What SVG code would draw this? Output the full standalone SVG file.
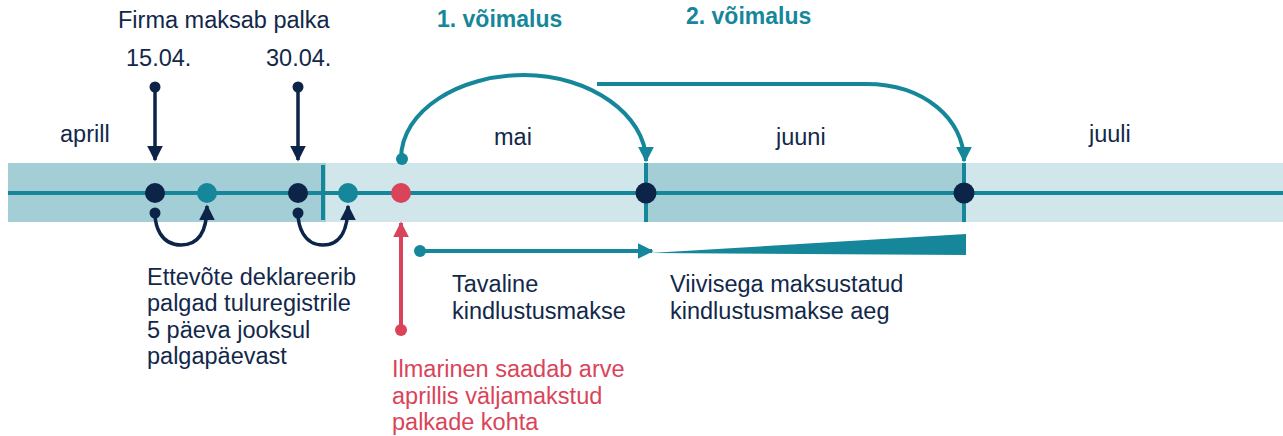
<svg xmlns="http://www.w3.org/2000/svg" width="1283" height="436" viewBox="0 0 1283 436">
<style>
text{font-family:"Liberation Sans",Arial,sans-serif;font-size:23.5px;fill:#12284a}
.t{fill:#16879a;font-weight:bold;font-size:23px}
.r{fill:#d9445a}
.tl{stroke:#16879a;stroke-width:4;fill:none}
.nl{stroke:#0b2447;stroke-width:3.5;fill:none}
</style>
<defs>
<marker id="at" viewBox="0 0 10 10" refX="9" refY="5" markerWidth="4" markerHeight="4" orient="auto" markerUnits="strokeWidth"><path d="M0,0 L10,5 L0,10 z" fill="#16879a"/></marker>
<marker id="an" viewBox="0 0 10 10" refX="9" refY="5" markerWidth="4.5" markerHeight="4.5" orient="auto" markerUnits="strokeWidth"><path d="M0,0 L10,5 L0,10 z" fill="#0b2447"/></marker>
<marker id="ar" viewBox="0 0 10 10" refX="9" refY="5" markerWidth="4" markerHeight="4" orient="auto" markerUnits="strokeWidth"><path d="M0,0 L10,5 L0,10 z" fill="#d9445a"/></marker>
</defs>
<g id="band">
<rect x="8" y="163" width="1275" height="59" fill="#d1e6ea"/>
<rect x="8" y="163" width="318" height="59" fill="#a4ced5"/>
<rect x="646" y="163" width="318" height="59" fill="#a4ced5"/>
<line x1="8" y1="193" x2="1283" y2="193" class="tl"/>
<line x1="323" y1="165" x2="323" y2="220" class="tl"/>
<line x1="646" y1="163" x2="646" y2="222" class="tl"/>
<line x1="964" y1="163" x2="964" y2="222" class="tl"/>
</g>
<g id="connectors">
<line x1="155" y1="87" x2="155" y2="160" class="nl" marker-end="url(#an)"/>
<circle cx="155" cy="87" r="5.5" fill="#0b2447"/>
<line x1="298" y1="87" x2="298" y2="160" class="nl" marker-end="url(#an)"/>
<circle cx="298" cy="87" r="5.5" fill="#0b2447"/>
<path d="M155,213 C155,225 160,245 181,245 C202,245 207,225 207,206" class="nl" marker-end="url(#an)"/>
<circle cx="155" cy="213" r="5.5" fill="#0b2447"/>
<path d="M298,213 C298,225 303,245 323,245 C343,245 348,225 348,206" class="nl" marker-end="url(#an)"/>
<circle cx="298" cy="213" r="5.5" fill="#0b2447"/>
<path d="M401,159 C401,110 460,75 524,75 C590,75 646,115 646,161" class="tl" marker-end="url(#at)"/>
<circle cx="402" cy="159" r="6" fill="#16879a"/>
<path d="M597,84 L866,84 C925,84 964,120 964,161" class="tl" marker-end="url(#at)"/>
<line x1="401" y1="330" x2="401" y2="223" stroke="#d9445a" stroke-width="4" marker-end="url(#ar)"/>
<circle cx="401" cy="330" r="6" fill="#d9445a"/>
<line x1="420" y1="251" x2="652" y2="251" class="tl" marker-end="url(#at)"/>
<circle cx="420" cy="251" r="6" fill="#16879a"/>
<polygon points="650,253 966,234 966,255" fill="#16879a"/>
</g>
<g id="dots">
<circle cx="155" cy="193" r="10" fill="#0b2447"/>
<circle cx="207" cy="193" r="10" fill="#16879a"/>
<circle cx="298" cy="193" r="10" fill="#0b2447"/>
<circle cx="348" cy="193" r="10" fill="#16879a"/>
<circle cx="401" cy="193" r="10" fill="#d9445a"/>
<circle cx="646" cy="193" r="10.5" fill="#0b2447"/>
<circle cx="964" cy="193" r="10.5" fill="#0b2447"/>
</g>
<g id="labels">
<text x="118" y="28">Firma maksab palka</text>
<text x="126" y="66">15.04.</text>
<text x="266" y="66">30.04.</text>
<text x="60" y="142">aprill</text>
<text x="494" y="145">mai</text>
<text x="776" y="145">juuni</text>
<text x="1089" y="142">juuli</text>
<text x="437" y="27" class="t">1. võimalus</text>
<text x="686" y="24" class="t">2. võimalus</text>
<text x="147" y="285">Ettevõte deklareerib</text>
<text x="147" y="311">palgad tuluregistrile</text>
<text x="147" y="338">5 päeva jooksul</text>
<text x="147" y="364">palgapäevast</text>
<text x="452" y="292">Tavaline</text>
<text x="452" y="319">kindlustusmakse</text>
<text x="670" y="292">Viivisega maksustatud</text>
<text x="670" y="319">kindlustusmakse aeg</text>
<text x="392" y="377" class="r">Ilmarinen saadab arve</text>
<text x="392" y="404" class="r">aprillis väljamakstud</text>
<text x="392" y="430" class="r">palkade kohta</text>
</g>
</svg>
